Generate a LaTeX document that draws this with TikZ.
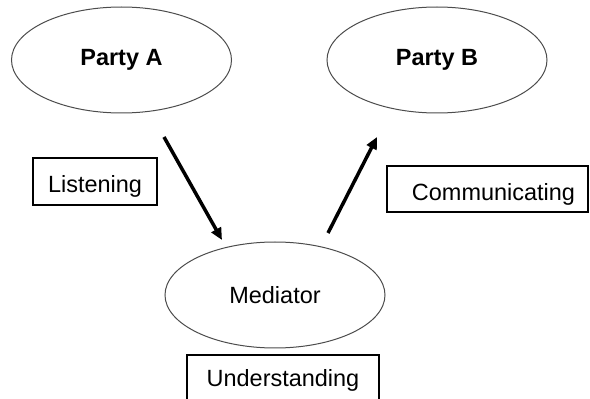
\documentclass[tikz,border=0pt]{standalone}
\usepackage{fontspec}
\setmainfont{Liberation Sans}
\usetikzlibrary{shapes.geometric,arrows.meta}
\newdimen\px
\px=0.75pt
\begin{document}
\begin{tikzpicture}[x=0.75pt,y=-0.75pt,
  every node/.style={font=\fontsize{17.6}{21}\selectfont},
  party/.style={ellipse,draw=black!70,line width=1\px,inner sep=0pt,
    minimum width=220\px,minimum height=106\px},
  tagbox/.style={rectangle,draw=black,line width=2\px,inner xsep=0pt,inner ysep=0pt},
  flow/.style={line width=3.5\px,-{Triangle[length=9pt,width=8pt]}}]
  \useasboundingbox (0,0) rectangle (590,399);

  % the three parties
  \node[party,font=\fontsize{17.6}{21}\selectfont\bfseries] (partyA) at (121.5,60) {Party A};
  \node[party,font=\fontsize{17.6}{21}\selectfont\bfseries] (partyB) at (437,60) {Party B};
  \node[party] (mediator) at (275,295) {Mediator};

  % skill labels
  \node[tagbox,anchor=base,minimum width=124\px,text height=34.7\px,text depth=12.3\px]
    (listening) at (95,192.7) {Listening};
  \node[tagbox,anchor=base,minimum width=201\px,text height=35\px,text depth=11\px]
    (communicating) at (487.5,201) {\hspace*{12\px}Communicating};
  \node[tagbox,anchor=base,minimum width=192\px,text height=32\px,text depth=16\px]
    (understanding) at (283,387) {Understanding};

  % flow of the message
  \coordinate (inA) at (164,137);
  \coordinate (inM) at (222,240);
  \coordinate (outM) at (328,233);
  \coordinate (outB) at (377,137);
  \draw[flow] (inA) -- (inM);
  \draw[flow] (outM) -- (outB);
\end{tikzpicture}
\end{document}
